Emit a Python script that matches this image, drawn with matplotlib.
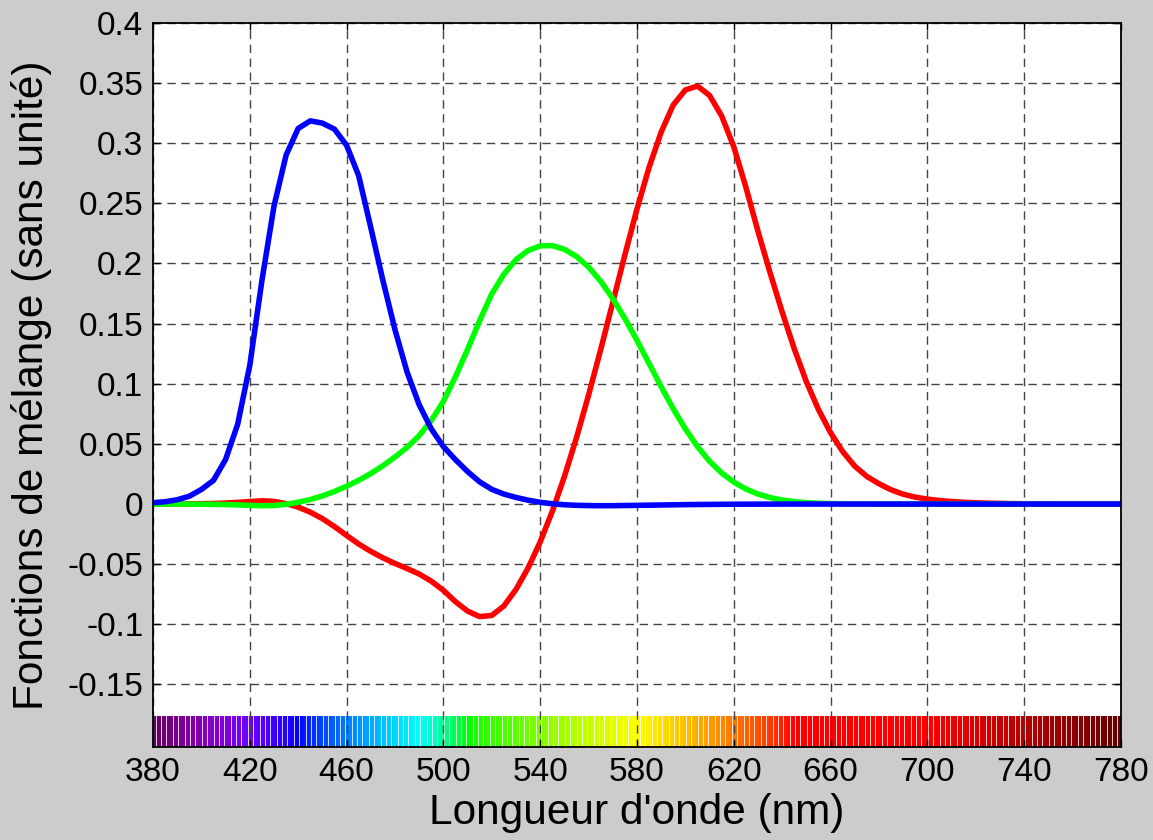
import numpy as np
import matplotlib
matplotlib.use("Agg")
import matplotlib.pyplot as plt

plt.rcParams['font.family'] = ['Liberation Sans', 'DejaVu Sans']

wavelength = list(range(380, 785, 5))
r_bar = [0.00003, 0.00005, 0.00010, 0.00017, 0.00030, 0.00047, 0.00084, 0.00139, 0.00211, 0.00266,
         0.00218, 0.00036, -0.00261, -0.00673, -0.01213, -0.01874, -0.02608, -0.03324, -0.03933, -0.04471,
         -0.04939, -0.05364, -0.05814, -0.06414, -0.07173, -0.08120, -0.08901, -0.09356, -0.09264, -0.08473,
         -0.07101, -0.05316, -0.03152, -0.00613, 0.02279, 0.05514, 0.09060, 0.12840, 0.16768, 0.20715,
         0.24526, 0.27989, 0.30928, 0.33184, 0.34429, 0.34756, 0.33971, 0.32265, 0.29708, 0.26348,
         0.22677, 0.19233, 0.15968, 0.12905, 0.10167, 0.07857, 0.05932, 0.04366, 0.03149, 0.02294,
         0.01687, 0.01187, 0.00819, 0.00572, 0.00410, 0.00291, 0.00210, 0.00148, 0.00105, 0.00074,
         0.00052, 0.00036, 0.00025, 0.00017, 0.00012, 0.00008, 0.00006, 0.00004, 0.00003, 0.00001, 0.00000]
g_bar = [-0.00001, -0.00002, -0.00004, -0.00007, -0.00014, -0.00022, -0.00041, -0.00070, -0.00110, -0.00143,
         -0.00119, -0.00021, 0.00149, 0.00379, 0.00678, 0.01046, 0.01485, 0.01977, 0.02538, 0.03183,
         0.03914, 0.04713, 0.05689, 0.06948, 0.08536, 0.10593, 0.12860, 0.15262, 0.17468, 0.19113,
         0.20317, 0.21083, 0.21466, 0.21487, 0.21178, 0.20588, 0.19702, 0.18522, 0.17087, 0.15429,
         0.13610, 0.11686, 0.09754, 0.07909, 0.06246, 0.04776, 0.03557, 0.02583, 0.01828, 0.01253,
         0.00833, 0.00537, 0.00334, 0.00199, 0.00116, 0.00066, 0.00037, 0.00021, 0.00011, 0.00006,
         0.00003, 0.00001, 0.00000, 0.00000, 0.00000, 0.00000, 0.00000, 0.00000, 0.00000, 0.00000,
         0.00000, 0.00000, 0.00000, 0.00000, 0.00000, 0.00000, 0.00000, 0.00000, 0.00000, 0.00000, 0.00000]
b_bar = [0.00117, 0.00189, 0.00359, 0.00647, 0.01214, 0.01969, 0.03707, 0.06637, 0.11541, 0.18575,
         0.24769, 0.29012, 0.31228, 0.31860, 0.31670, 0.31166, 0.29821, 0.27295, 0.22991, 0.18592,
         0.14494, 0.10968, 0.08257, 0.06246, 0.04776, 0.03688, 0.02698, 0.01842, 0.01221, 0.00830,
         0.00549, 0.00320, 0.00146, 0.00023, -0.00058, -0.00105, -0.00130, -0.00138, -0.00135, -0.00123,
         -0.00108, -0.00093, -0.00079, -0.00063, -0.00049, -0.00038, -0.00030, -0.00022, -0.00015, -0.00011,
         -0.00008, -0.00005, -0.00003, -0.00002, -0.00001, -0.00001, 0.00000, 0.00000, 0.00000, 0.00000,
         0.00000, 0.00000, 0.00000, 0.00000, 0.00000, 0.00000, 0.00000, 0.00000, 0.00000, 0.00000,
         0.00000, 0.00000, 0.00000, 0.00000, 0.00000, 0.00000, 0.00000, 0.00000, 0.00000, 0.00000, 0.00000]

x_ticks = list(range(380, 781, 40))
y_ticks = [-0.15, -0.1, -0.05, 0, 0.05, 0.1, 0.15, 0.2, 0.25, 0.3, 0.35, 0.4]
y_tick_labels = ['-0.15', '-0.1', '-0.05', '0', '0.05', '0.1', '0.15', '0.2', '0.25', '0.3', '0.35', '0.4']


def wl_to_rgb(w):
    if w < 440:
        r, g, b = -(w - 440) / 60.0, 0.0, 1.0
    elif w < 490:
        r, g, b = 0.0, (w - 440) / 50.0, 1.0
    elif w < 510:
        r, g, b = 0.0, 1.0, -(w - 510) / 20.0
    elif w < 580:
        r, g, b = (w - 510) / 70.0, 1.0, 0.0
    elif w < 645:
        r, g, b = 1.0, -(w - 645) / 65.0, 0.0
    else:
        r, g, b = 1.0, 0.0, 0.0
    if w < 420:
        f = 0.3 + 0.7 * (w - 380) / 40.0
    elif w <= 700:
        f = 1.0
    else:
        f = 0.3 + 0.7 * (780 - w) / 80.0
    return tuple((c * f) ** 0.8 if c > 0 else 0.0 for c in (r, g, b))


fig = plt.figure(figsize=(11.53, 8.4), dpi=100, facecolor='#cccccc')
ax = fig.add_axes([0.1327, 0.1107, 0.8395, 0.862])
ax.set_facecolor('white')

y_bottom = -0.202
bar_top = -0.1765

# spectrum bar
spec_w = np.arange(380, 781, 1)
ax.vlines(spec_w, y_bottom, bar_top, colors=[wl_to_rgb(w) for w in spec_w],
          linewidth=1.6, zorder=1)

ax.plot(wavelength, r_bar, color='#ff0000', lw=4.0, zorder=3)
ax.plot(wavelength, g_bar, color='#00ff00', lw=4.0, zorder=3)
ax.plot(wavelength, b_bar, color='#0000ff', lw=4.0, zorder=3)

ax.set_xlim(380, 780)
ax.set_ylim(y_bottom, 0.4)
ax.set_xticks(x_ticks)
ax.set_xticklabels([str(t) for t in x_ticks])
ax.set_yticks(y_ticks)
ax.set_yticklabels(y_tick_labels)
ax.grid(True, color='#444444', linestyle=(0, (6, 4)), linewidth=1.0, zorder=2)
ax.set_axisbelow(False)
for ln in ax.get_xgridlines() + ax.get_ygridlines():
    ln.set_zorder(2)
ax.tick_params(direction='in', length=5, width=1, labelsize=24, pad=7,
               top=True, right=True)
for s in ax.spines.values():
    s.set_linewidth(1.3)
    s.set_zorder(5)

ax.set_xlabel("Longueur d'onde (nm)", fontsize=30.5, labelpad=4)
ax.set_ylabel("Fonctions de mélange (sans unité)", fontsize=30.5, labelpad=11)

fig.savefig('out.png', dpi=100, facecolor=fig.get_facecolor())
